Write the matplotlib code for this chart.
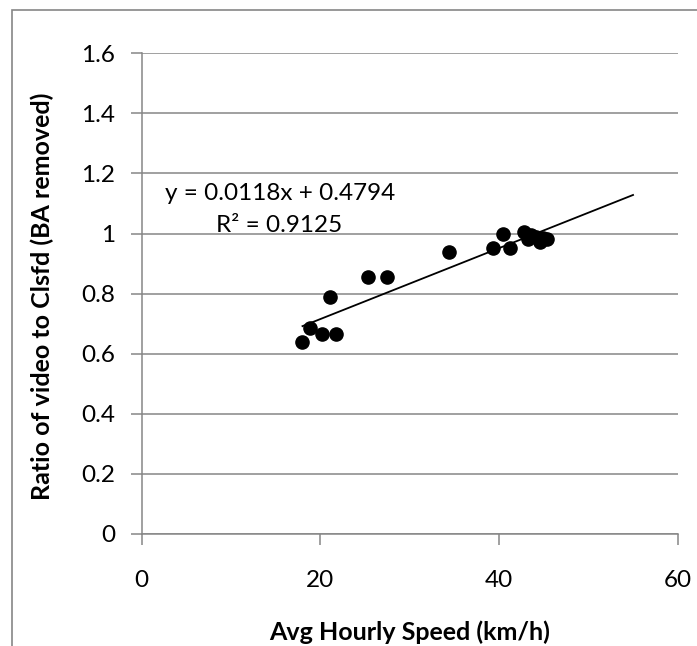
import matplotlib
matplotlib.use("Agg")
import matplotlib.pyplot as plt
import numpy as np
from matplotlib.patches import Rectangle

plt.rcParams['font.family'] = ['Lato', 'DejaVu Sans']

# avg hourly speed (km/h) vs ratio of video to classified counts
speed = [17.9, 18.8, 20.2, 21.8, 21.1, 25.3, 27.5, 34.4, 39.3, 40.5,
         41.2, 42.8, 43.2, 43.6, 44.1, 44.6, 44.9, 45.4]
ratio = [0.639, 0.687, 0.664, 0.667, 0.788, 0.854, 0.854, 0.938, 0.952, 1.000,
         0.952, 1.006, 0.983, 0.994, 0.989, 0.972, 0.986, 0.983]

# trendline from the equation shown on the chart
slope = 0.0118
intercept = 0.4794
r2 = 0.9125
trend_x = [18, 55]

xticks = [0, 20, 40, 60]
yticks = [0, 0.2, 0.4, 0.6, 0.8, 1.0, 1.2, 1.4, 1.6]
ytick_labels = ['0', '0.2', '0.4', '0.6', '0.8', '1', '1.2', '1.4', '1.6']

grey = '#868686'
fs = 17.5
fs_lab = 18

fig = plt.figure(figsize=(6.97, 6.46), dpi=100)
# chart area border (cut off at right/bottom)
fig.patches.append(Rectangle((12 / 697, -0.1), 1.1, 1 - 10 / 646 + 0.1,
                             transform=fig.transFigure, fill=False,
                             edgecolor=grey, linewidth=1.2))

ax = fig.add_axes([0.2033, 0.1734, 0.9723 - 0.2033, 0.9175 - 0.1734])

ax.set_xlim(0, 60)
ax.set_ylim(0, 1.6)
ax.set_xticks(xticks)
ax.set_yticks(yticks)
ax.set_yticklabels(ytick_labels)
ax.grid(axis='y', color=grey, linewidth=1.1)
ax.set_axisbelow(True)

for side in ['top', 'right']:
    ax.spines[side].set_visible(False)
for side in ['left', 'bottom']:
    ax.spines[side].set_color(grey)
    ax.spines[side].set_linewidth(1.1)

ax.tick_params(axis='both', direction='out', length=8, width=1.1, color=grey,
               labelsize=fs, labelcolor='black')
ax.tick_params(axis='x', pad=18)
ax.tick_params(axis='y', pad=11)

ax.scatter(speed, ratio, s=90, color='black', zorder=3)
tx = np.array(trend_x)
ax.plot(tx, slope * tx + intercept, color='black', linewidth=1.3, zorder=2)

ax.text(2.6, 1.133, 'y = 0.0118x + 0.4794', fontsize=fs, ha='left', va='center')
ax.text(8.3, 1.028, 'R² = 0.9125', fontsize=fs, ha='left', va='center')

ax.set_xlabel('Avg Hourly Speed (km/h)', fontsize=fs_lab, fontweight='bold', va='center')
ax.set_ylabel('Ratio of video to Clsfd (BA removed)', fontsize=fs_lab, fontweight='bold',
              va='center')
ax.xaxis.set_label_coords(0.5, (534 - 632) / 480.7)
ax.yaxis.set_label_coords(-0.185, (534 - 296) / 480.7)

fig.savefig('out.png', dpi=100)
